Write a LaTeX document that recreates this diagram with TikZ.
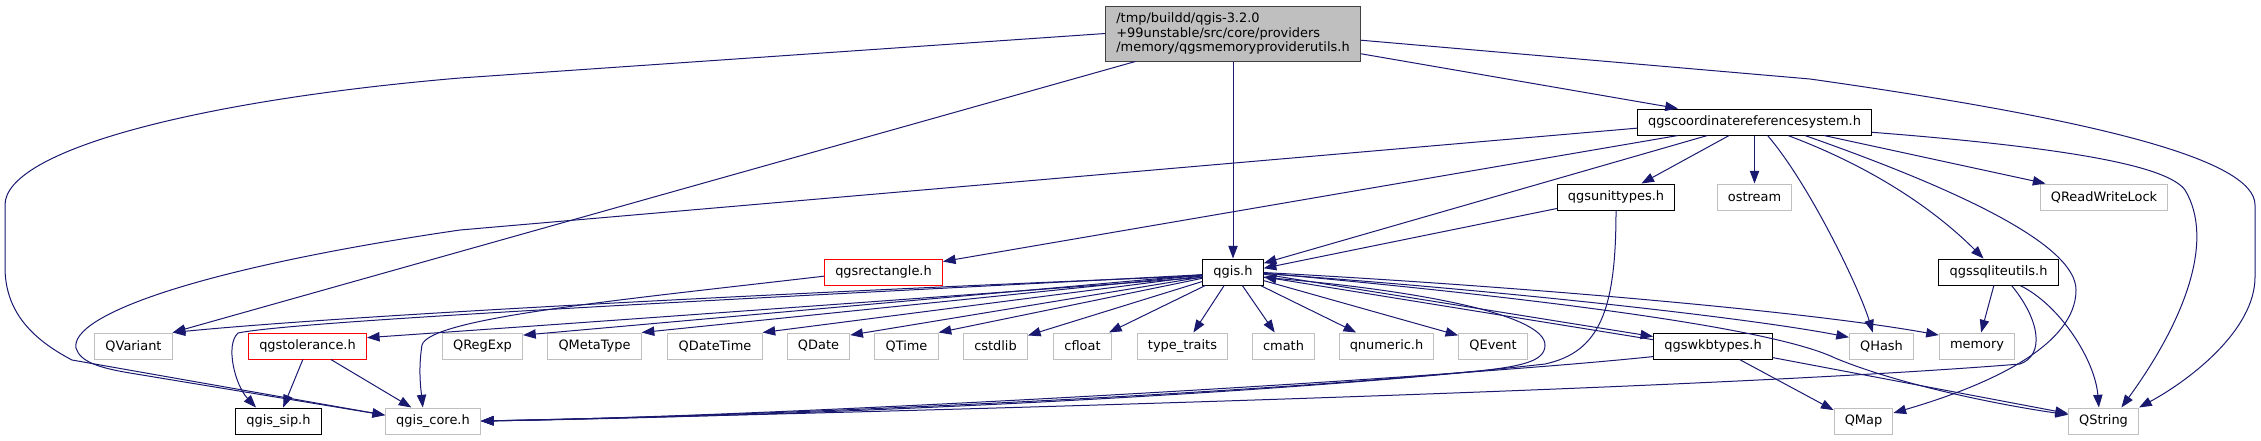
\documentclass[tikz,border=0pt]{standalone}
\usepackage{fontspec}
\setmainfont{DejaVu Sans}
\usepackage{tikz}
\usetikzlibrary{arrows.meta}

\definecolor{midnight}{HTML}{191970}
\definecolor{greyfill}{HTML}{BFBFBF}
\definecolor{greyline}{HTML}{404040}

\begin{document}
\begin{tikzpicture}[
    x=0.75pt, y=-0.75pt,
    file/.style={draw, line width=0.75pt, rectangle, inner xsep=8pt, inner ysep=2pt, minimum height=19.5pt, font=\fontsize{9.7}{10.9}\selectfont},
    docfile/.style={file, draw=black},
    extfile/.style={file, draw=greyfill},
    redfile/.style={file, draw=red},
    root/.style={file, draw=greyline, fill=greyfill, align=left, minimum height=41.25pt},
    edge/.style={draw=midnight, line width=0.75pt, -{Triangle[length=9.5pt, width=7pt]}}
]
\useasboundingbox (0,0) rectangle (2261,440);

% Knoten
\node[root] (M) at (1233,33.5) {/tmp/buildd/qgis-3.2.0\\+99unstable/src/core/providers\\/memory/qgsmemoryproviderutils.h};
\node[docfile] (C) at (1754.5,122) {qgscoordinatereferencesystem.h};
\node[docfile] (U) at (1616,197) {qgsunittypes.h};
\node[extfile] (ostream) at (1754.5,197) {ostream};
\node[extfile] (QRWL) at (2104,197) {QReadWriteLock};
\node[redfile] (R) at (883.5,272) {qgsrectangle.h};
\node[docfile] (Q) at (1233,272) {qgis.h};
\node[docfile] (S) at (1998.5,272) {qgssqliteutils.h};
\node[extfile] (QVariant) at (133.5,346) {QVariant};
\node[redfile] (T) at (307.5,346) {qgstolerance.h};
\node[extfile] (QRegExp) at (482.5,346) {QRegExp};
\node[extfile] (QMetaType) at (594.5,346) {QMetaType};
\node[extfile] (QDateTime) at (715,346) {QDateTime};
\node[extfile] (QDate) at (818.5,346) {QDate};
\node[extfile] (QTime) at (906.5,346) {QTime};
\node[extfile] (cstdlib) at (995.5,346) {cstdlib};
\node[extfile] (cfloat) at (1082.5,346) {cfloat};
\node[extfile] (traits) at (1182.5,346) {type\_traits};
\node[extfile] (cmath) at (1283.5,346) {cmath};
\node[extfile] (qnumeric) at (1386.5,346) {qnumeric.h};
\node[extfile] (QEvent) at (1493,346) {QEvent};
\node[docfile] (W) at (1713,346) {qgswkbtypes.h};
\node[extfile] (QHash) at (1881.5,346) {QHash};
\node[extfile] (memory) at (1977,346) {memory};
\node[docfile] (sip) at (278.5,421) {qgis\_sip.h};
\node[extfile] (core) at (433,421) {qgis\_core.h};
\node[extfile] (QMap) at (1863.5,421) {QMap};
\node[extfile] (QString) at (2103.5,421) {QString};

% Kanten vom Wurzelknoten
\draw[edge] (M.west) -- (460,78) .. controls (200,100) and (5,150) .. (5,205) -- (5,267) .. controls (5,310) and (30,338) .. (72,360) -- (core.173);
\draw[edge] (M.196) -- (QVariant.north east);
\draw[edge] (M.south) -- (Q.north);
\draw[edge] (M.-9.5) -- (C.170);
\draw[edge] (M.-3.3) -- (1810,79) .. controls (2100,120) and (2255,160) .. (2255,205) -- (2255,277) .. controls (2255,330) and (2190,380) .. (QString.north east);

% Kanten von qgscoordinatereferencesystem.h
\draw[edge] (C.183) -- (460,230) .. controls (200,268) and (70,315) .. (76,348) .. controls (80,362) and (100,368) .. (130,373) -- (core.173);
\draw[edge] (C.190) -- (R.10);
\draw[edge] (C.196) -- (Q.16);
\draw[edge] (C.208) -- (U.28);
\draw[edge] (C.south) -- (ostream.north);
\draw[edge] (C.-46) .. controls (1810,185) and (1860,290) .. (QHash.123);
\draw[edge] (C.-22) .. controls (1880,170) and (1940,215) .. (S.138);
\draw[edge] (C.-15) .. controls (1960,190) and (2076,245) .. (2076,290) .. controls (2076,345) and (1990,385) .. (QMap.15);
\draw[edge] (C.-11.6) -- (QRWL.167);
\draw[edge] (C.-5) .. controls (2100,150) and (2170,170) .. (2185,190) .. controls (2215,240) and (2185,320) .. (QString.37);

% Kanten von qgsunittypes.h und qgsrectangle.h
\draw[edge] (U.191) -- (Q.7);
\draw[edge] (U.south) .. controls (1616,310) and (1600,352) .. (1545,364) .. controls (1300,392) and (800,415) .. (core.east);
\draw[edge] (R.184) .. controls (620,300) and (430,318) .. (422,345) .. controls (418,370) and (421,390) .. (core.127);

% Kanten von qgstolerance.h
\draw[edge] (T.251) -- (sip.71);
\draw[edge] (T.-30) -- (core.148);

% Kanten von qgis.h
\draw[edge] (Q.187) .. controls (800,292) and (350,315) .. (QVariant.north east);
\draw[edge] (Q.185) .. controls (800,296) and (300,320) .. (238,333) .. controls (225,345) and (235,385) .. (sip.149);
\draw[edge] (Q.190) .. controls (900,300) and (550,325) .. (T.8);
\draw[edge] (Q) -- (QRegExp.15);
\draw[edge] (Q) -- (QMetaType.north east);
\draw[edge] (Q) -- (QDateTime.north east);
\draw[edge] (Q) -- (QDate.19);
\draw[edge] (Q) -- (QTime.north east);
\draw[edge] (Q) -- (cstdlib.18);
\draw[edge] (Q) -- (cfloat.27);
\draw[edge] (Q) -- (traits.51);
\draw[edge] (Q) -- (cmath.123);
\draw[edge] (Q) -- (qnumeric.156);
\draw[edge] (Q) -- (QEvent.163);
\draw[edge] (Q.-4) -- (W.171);
\draw[edge] (Q.-10) .. controls (1420,290) and (1545,315) .. (1545,345) .. controls (1545,362) and (1520,366) .. (1480,371) .. controls (1200,398) and (800,416) .. (core.east);
\draw[edge] (Q.-1) .. controls (1500,285) and (1800,310) .. (memory.164);
\draw[edge] (Q.-3) .. controls (1500,290) and (1750,318) .. (QHash.165);
\draw[edge] (Q.-2) .. controls (1450,290) and (1760,322) .. (1835,358) .. controls (1900,385) and (2000,405) .. (QString.170);

% Kanten von qgswkbtypes.h
\draw[edge] (W.174) -- (Q.-9);
\draw[edge] (W.190) .. controls (1450,378) and (800,416) .. (core.east);
\draw[edge] (W.-27) -- (QMap.160);
\draw[edge] (W.-11) -- (QString.168);

% Kanten von qgssqliteutils.h
\draw[edge] (S.251) -- (memory.73);
\draw[edge] (S.-46) .. controls (2040,320) and (2045,355) .. (2020,364) .. controls (1700,390) and (900,412) .. (core.east);
\draw[edge] (S.-32) .. controls (2060,305) and (2095,360) .. (QString.109);

\end{tikzpicture}
\end{document}
